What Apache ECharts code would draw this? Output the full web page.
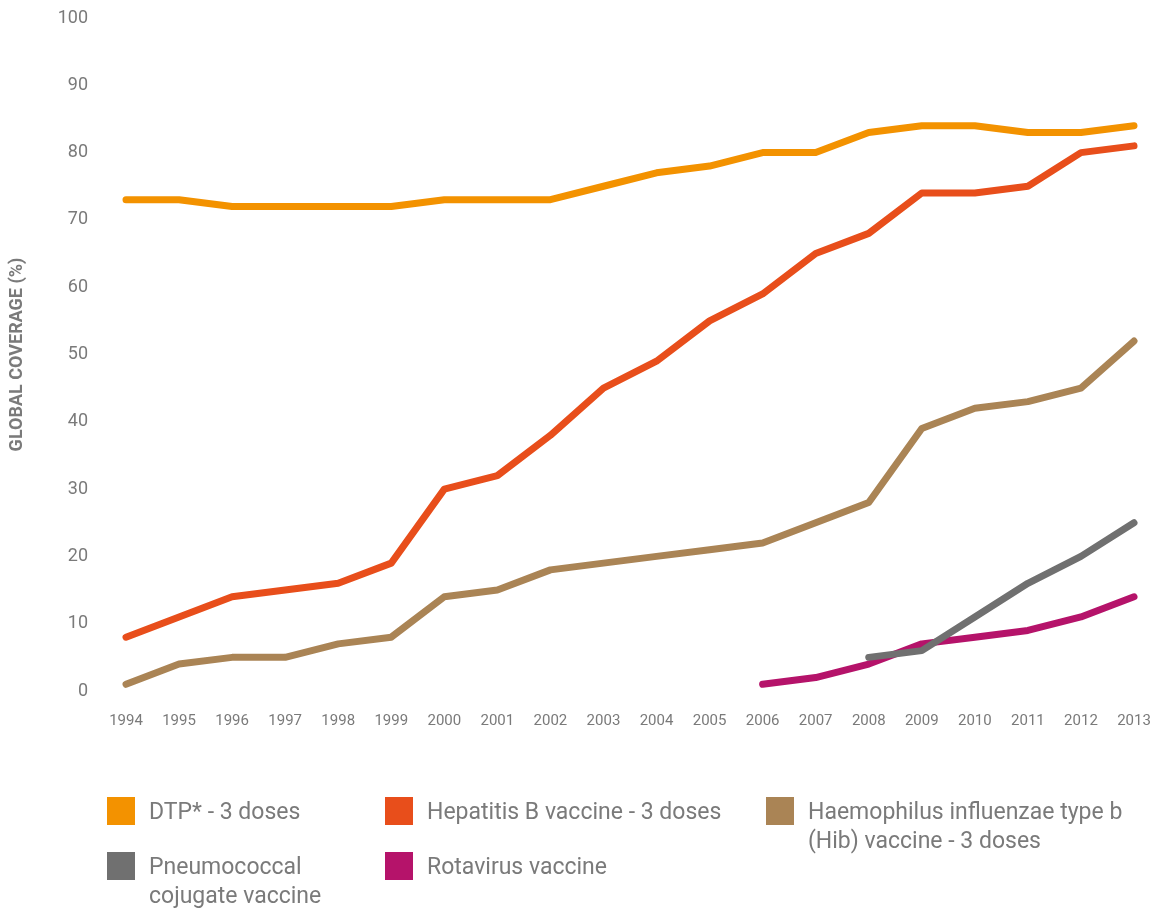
<!DOCTYPE html>
<html>
<head>
<meta charset="utf-8">
<script src="https://cdn.jsdelivr.net/npm/echarts@6/dist/echarts.min.js"></script>
<style>
  html, body { margin: 0; padding: 0; background: #fff; }
  #main { width: 1163px; height: 910px; }
</style>
</head>
<body>
<div id="main"></div>
<script>
// years on the x axis
var years = ['1994','1995','1996','1997','1998','1999','2000','2001','2002','2003',
             '2004','2005','2006','2007','2008','2009','2010','2011','2012','2013'];

// coverage values (%)
var dtp    = [73,73,72,72,72,72,73,73,73,75,77,78,80,80,83,84,84,83,83,84];
var hepB   = [8,11,14,15,16,19,30,32,38,45,49,55,59,65,68,74,74,75,80,81];
var hib    = [1,4,5,5,7,8,14,15,18,19,20,21,22,25,28,39,42,43,45,52];
var pneumo = [null,null,null,null,null,null,null,null,null,null,null,null,null,null,5,6,11,16,20,25];
var rota   = [null,null,null,null,null,null,null,null,null,null,null,null,1,2,4,7,8,9,11,14];

var seriesNames = ['DTP* - 3 doses', 'Hepatitis B vaccine - 3 doses',
                   'Haemophilus influenzae type b\n(Hib) vaccine - 3 doses',
                   'Pneumococcal\ncojugate vaccine', 'Rotavirus vaccine'];
var seriesData = [dtp, hepB, hib, pneumo, rota];
var colors = ['#F39200', '#E84E1B', '#AA8455', '#707070', '#B5136A'];

var fontName = 'Roboto';
var grey = '#7a7a7a';

var chart = echarts.init(document.getElementById('main'));

var series = [];
for (var i = 0; i < seriesData.length; i++) {
    series.push({
        name: seriesNames[i],
        type: 'line',
        data: seriesData[i],
        showSymbol: false,
        symbol: 'none',
        z: 10 - i,
        lineStyle: { color: colors[i], width: 7, cap: 'round', join: 'round' },
        itemStyle: { color: colors[i] }
    });
}

// legend drawn as graphic boxes + text (positions per item)
var legendPos = [[107, 797], [385, 797], [766, 797], [107, 852], [385, 852]];
var graphics = [];
for (var j = 0; j < seriesNames.length; j++) {
    graphics.push({
        type: 'rect',
        left: legendPos[j][0], top: legendPos[j][1],
        shape: { width: 28, height: 28 },
        style: { fill: colors[j] }
    });
    graphics.push({
        type: 'text',
        left: legendPos[j][0] + 42, top: legendPos[j][1] + 2,
        style: {
            text: seriesNames[j],
            fill: grey,
            font: '23px ' + fontName,
            lineHeight: 29
        }
    });
}

var option = {
    backgroundColor: '#fff',
    animation: false,
    grid: { left: 120, right: 29, top: 18, bottom: 219, containLabel: false },
    xAxis: {
        type: 'category',
        data: years,
        boundaryGap: false,
        axisLine: { show: false },
        axisTick: { show: false },
        axisLabel: { color: grey, fontSize: 15, fontFamily: fontName, margin: 23 },
        splitLine: { show: false }
    },
    yAxis: {
        type: 'value',
        min: 0, max: 100, interval: 10,
        name: 'GLOBAL COVERAGE (%)',
        nameLocation: 'middle',
        nameGap: 100,
        nameTextStyle: { color: grey, fontSize: 18, fontWeight: 'bold', fontFamily: fontName },
        axisLine: { show: false },
        axisTick: { show: false },
        splitLine: { show: false },
        axisLabel: { color: grey, fontSize: 18, fontFamily: fontName, margin: 38 }
    },
    graphic: graphics,
    series: series
};

chart.setOption(option);
</script>
</body>
</html>
